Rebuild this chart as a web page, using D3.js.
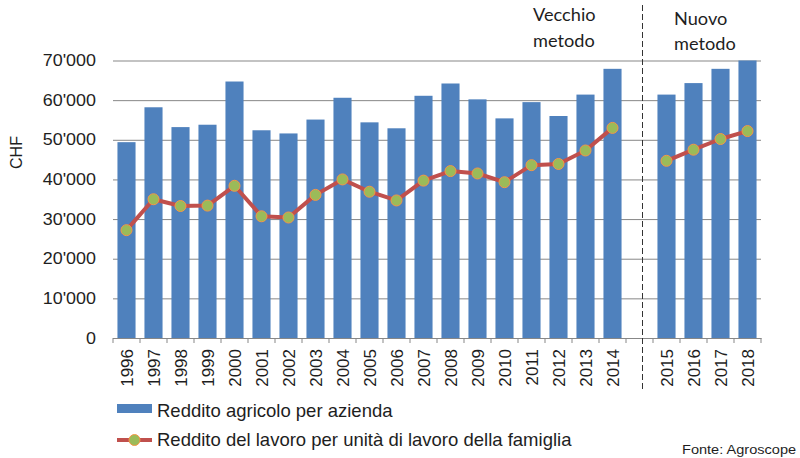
<!DOCTYPE html>
<html>
<head>
<meta charset="utf-8">
<script src="https://cdn.jsdelivr.net/npm/d3@7/dist/d3.min.js"></script>
<style>
  body { margin: 0; background: #fff; }
  text { font-family: "Liberation Sans", Arial, sans-serif; fill: #1e1e1e; }
</style>
</head>
<body>
<div id="chart"></div>
<script>
// Data
const oldYears = ["1996", "1997", "1998", "1999", "2000", "2001", "2002", "2003", "2004", "2005",
                  "2006", "2007", "2008", "2009", "2010", "2011", "2012", "2013", "2014"];
const newYears = ["2015", "2016", "2017", "2018"];

// Reddito agricolo per azienda (bars)
const oldFarmIncome = [49400, 58200, 53200, 53800, 64700, 52400, 51600, 55100, 60600, 54400,
                       52900, 61100, 64200, 60200, 55400, 59500, 56000, 61400, 67900];
const newFarmIncome = [61400, 64300, 67900, 70000];

// Reddito del lavoro per unita di lavoro della famiglia (line)
const oldWorkIncome = [27200, 35000, 33300, 33400, 38400, 30700, 30400, 36100, 40000, 36900,
                       34700, 39700, 42100, 41500, 39300, 43600, 43900, 47300, 53000];
const newWorkIncome = [44700, 47500, 50200, 52200];

const yTicks = [0, 10000, 20000, 30000, 40000, 50000, 60000, 70000];
const GAP = "gap";

const barLabel = "Reddito agricolo per azienda";
const lineLabel = "Reddito del lavoro per unità di lavoro della famiglia";

// Setup
const width = 800, height = 458;
const plotLeft = 113, plotRight = 761;
const barColor = "#4f81bd", lineColor = "#c0504d";
const gridColor = "#878787";

const fmt = d3.formatLocale({ decimal: ".", thousands: "'", grouping: [3], currency: ["", ""] }).format(",");

const x = d3.scaleBand()
    .domain([...oldYears, GAP, ...newYears])
    .range([plotLeft, plotRight])
    .paddingInner(0.33)
    .paddingOuter(0.165);
const y = d3.scaleLinear().domain([0, 70000]).range([338, 60.5]);

const svg = d3.select("#chart").append("svg")
    .attr("width", width)
    .attr("height", height);

// gridlines
const grid = svg.append("g")
    .attr("transform", "translate(" + plotLeft + ",0)")
    .call(d3.axisLeft(y).tickValues(yTicks).tickSize(-(plotRight - plotLeft)).tickFormat(""));
grid.select(".domain").remove();
grid.selectAll("line").attr("stroke", gridColor);

// y labels
const yAxis = svg.append("g")
    .attr("transform", "translate(96,0)")
    .call(d3.axisLeft(y).tickValues(yTicks).tickSize(0).tickPadding(0).tickFormat(fmt));
yAxis.select(".domain").remove();
yAxis.selectAll("text")
    .style("font-size", "16px")
    .attr("transform", "scale(1.12,1)");

svg.append("text")
    .attr("transform", "translate(22,152.5) rotate(-90)")
    .style("text-anchor", "middle")
    .style("font-size", "16px")
    .text("CHF");

// bars
const barData = oldYears.map((d, i) => ({ year: d, v: oldFarmIncome[i] }))
    .concat(newYears.map((d, i) => ({ year: d, v: newFarmIncome[i] })));

svg.append("g").selectAll("rect")
    .data(barData)
    .join("rect")
    .attr("x", d => x(d.year))
    .attr("y", d => y(d.v))
    .attr("width", x.bandwidth())
    .attr("height", d => y(0) - y(d.v))
    .attr("fill", barColor);

// x axis
const xAxis = svg.append("g")
    .attr("transform", "translate(0," + y(0) + ")")
    .call(d3.axisBottom(x).tickSize(0).tickFormat(d => d === GAP ? "" : d));
xAxis.select(".domain").attr("stroke", gridColor);
xAxis.selectAll("text")
    .attr("transform", "rotate(-90)")
    .attr("x", -11)
    .attr("y", 0)
    .attr("dy", "0.36em")
    .style("text-anchor", "end")
    .style("font-size", "17px");

// boundary ticks between categories
svg.append("g").selectAll("line")
    .data(d3.range(x.domain().length + 1))
    .join("line")
    .attr("x1", i => x.range()[0] + i * x.step())
    .attr("x2", i => x.range()[0] + i * x.step())
    .attr("y1", y(0))
    .attr("y2", y(0) + 5)
    .attr("stroke", gridColor);

// method split
const splitX = x(GAP) + x.bandwidth() / 2 + 3;
svg.append("line")
    .attr("x1", splitX).attr("x2", splitX)
    .attr("y1", 5).attr("y2", 392)
    .attr("stroke", "#333")
    .attr("stroke-dasharray", "6,3");

const noteFont = "Lato, 'Open Sans', sans-serif";
[["Vecchio", 533, 20.7], ["metodo", 533, 46.7], ["Nuovo", 674, 25], ["metodo", 674, 50]].forEach(t => {
  svg.append("text")
      .attr("transform", "translate(" + t[1] + "," + t[2] + ") scale(1.07,1)")
      .style("font-family", noteFont)
      .style("font-weight", 400)
      .style("font-size", "17px")
      .text(t[0]);
});

// lines
const line = d3.line()
    .x(d => x(d.year) + x.bandwidth() / 2)
    .y(d => y(d.v));

const oldLine = oldYears.map((d, i) => ({ year: d, v: oldWorkIncome[i] }));
const newLine = newYears.map((d, i) => ({ year: d, v: newWorkIncome[i] }));

svg.append("g").selectAll("path")
    .data([oldLine, newLine])
    .join("path")
    .attr("d", line)
    .attr("fill", "none")
    .attr("stroke", lineColor)
    .attr("stroke-width", 4)
    .attr("stroke-linejoin", "round");

svg.append("g").selectAll("circle")
    .data(oldLine.concat(newLine))
    .join("circle")
    .attr("cx", d => x(d.year) + x.bandwidth() / 2)
    .attr("cy", d => y(d.v))
    .attr("r", 5.5)
    .attr("fill", "#9bbb59")
    .attr("stroke", "#f79646")
    .attr("stroke-width", 1);

// legend
const legend = svg.append("g");
legend.append("rect")
    .attr("x", 117).attr("y", 404)
    .attr("width", 35).attr("height", 9)
    .attr("fill", barColor);
legend.append("text")
    .attr("x", 157).attr("y", 416.5)
    .style("font-size", "18.5px")
    .text(barLabel);

legend.append("line")
    .attr("x1", 117).attr("x2", 152)
    .attr("y1", 440).attr("y2", 440)
    .attr("stroke", lineColor)
    .attr("stroke-width", 4);
legend.append("circle")
    .attr("cx", 134.5).attr("cy", 440)
    .attr("r", 5.5)
    .attr("fill", "#9bbb59")
    .attr("stroke", "#f79646");
legend.append("text")
    .attr("x", 157).attr("y", 446)
    .style("font-size", "18.5px")
    .text(lineLabel);

svg.append("text")
    .attr("transform", "translate(682,454) scale(1.12,1)")
    .style("font-size", "13px")
    .text("Fonte: Agroscope");
</script>
</body>
</html>
